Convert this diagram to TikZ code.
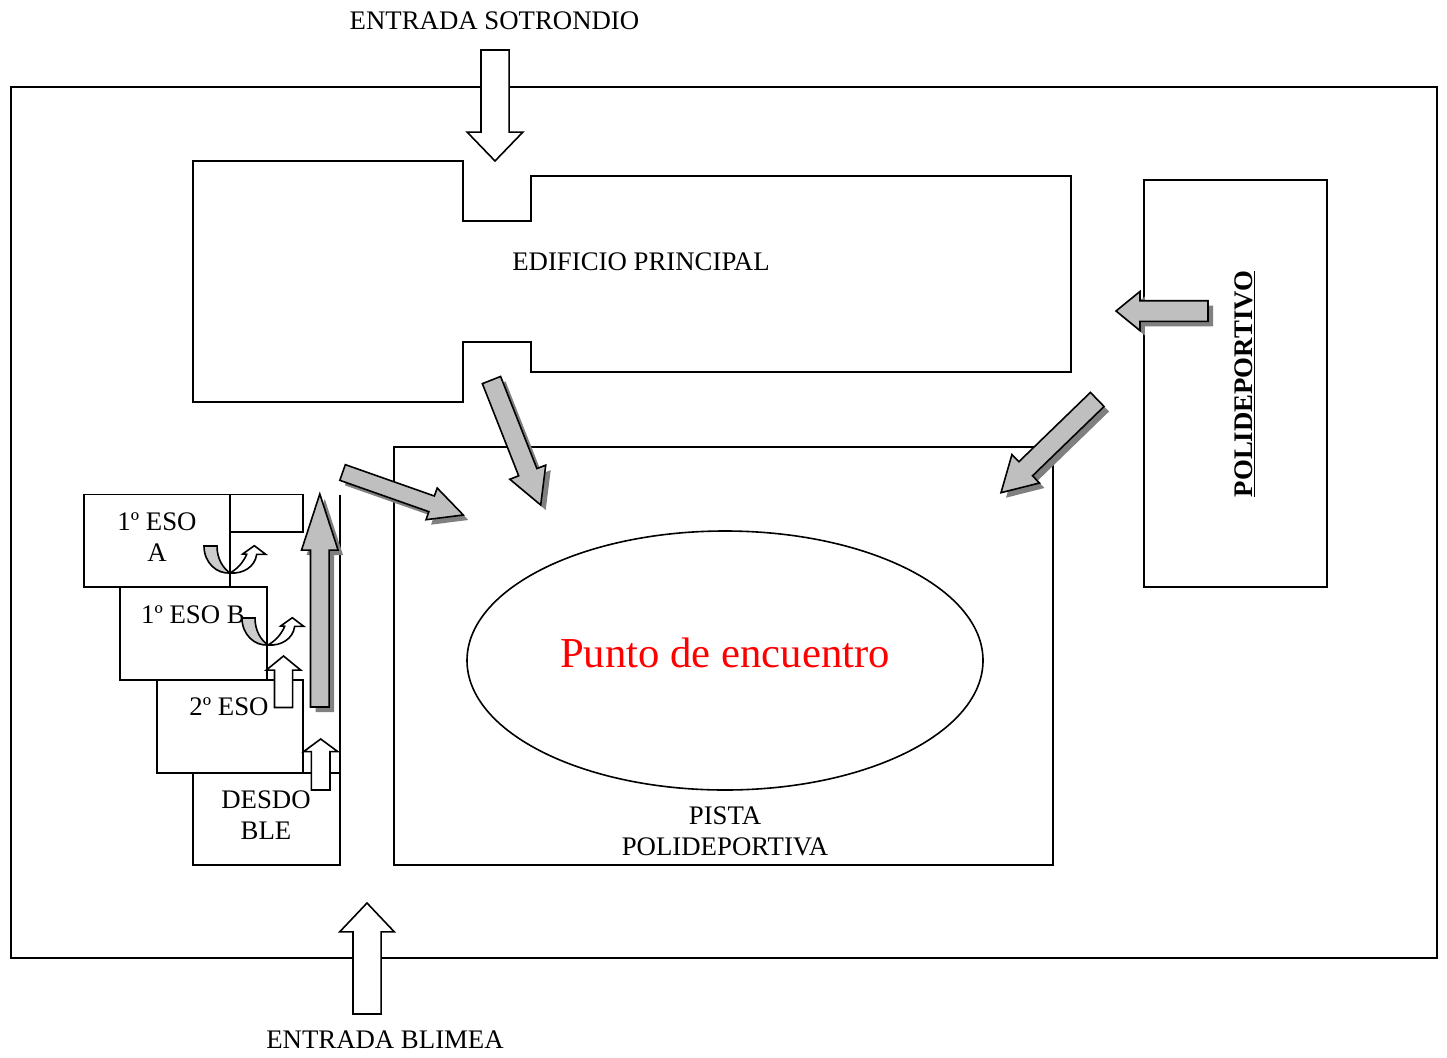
\documentclass[tikz,border=0pt]{standalone}
\usepackage{fontspec}
\setmainfont{Liberation Serif}
\usetikzlibrary{shapes.geometric,shapes.arrows,shadows}

\tikzset{
	wall/.style={line width=1.6pt},
	label/.style={font=\fontsize{26.8}{31}\selectfont, inner sep=0pt},
	blockarrow/.style n args={4}{shape=single arrow, draw, line width=1.6pt, inner sep=0pt, outer sep=0pt,
		anchor=tip, minimum height=#1, minimum width=#2, text height=#3, text depth=0pt, text width=1pt,
		single arrow head extend={(#2-#3)/2}, single arrow head indent=0pt,
		single arrow tip angle={2*atan((#2/2)/#4)}},
	whitearrow/.style n args={4}{blockarrow={#1}{#2}{#3}{#4}, fill=white},
	grayarrow/.style n args={4}{blockarrow={#1}{#2}{#3}{#4}, fill=black!25,
		drop shadow={shadow xshift=5pt, shadow yshift=-5pt, fill=black!50, opacity=1}},
	pics/uturn/.style={code={
		\draw[line width=1.6pt, fill=black!20] (-26,-27) .. controls (-26,-10) and (-13,1) .. (0,0)
			.. controls (-7,-5) and (-13,-14) .. (-13,-27) -- cycle;
		\draw[line width=1.6pt, fill=white] (0,0) .. controls (7,-4) and (13,-10) .. (16.7,-18.7)
			-- (12.7,-19) -- (24.3,-27.3) -- (35.7,-18.7) -- (26.7,-18.7)
			.. controls (25,-6) and (13,1) .. (0,0) -- cycle;
	}},
}

\begin{document}
\begin{tikzpicture}[x=1pt, y=-1pt]
	\useasboundingbox (0,0) rectangle (1447,1057);
	\draw[wall] (11,87) rectangle (1437,958);
	% edificio
	\draw[wall] (193,161) -- (463,161) -- (463,221) -- (531,221) -- (531,176) -- (1071,176)
		-- (1071,372) -- (531,372) -- (531,342) -- (463,342) -- (463,402) -- (193,402) -- cycle;
	\draw[wall] (1144,180) rectangle (1327,587);
	\draw[wall] (394,447) rectangle (1053,865);
	\node[draw, wall, shape=ellipse, inner sep=0pt, minimum width=516pt, minimum height=259pt] (encuentro) at (725,660.5) {};
	% aulas
	\draw[wall] (84,494.5) rectangle (230,587);
	\draw[wall] (230,494.5) rectangle (303,532);
	\draw[wall] (230,532) -- (230,587);
	\draw[wall] (120,587) rectangle (267,680);
	\draw[wall] (157,680) rectangle (303,773);
	\draw[wall] (193,773) rectangle (340,865);
	\draw[wall] (340,494.5) -- (340,773);

	\node[label] (sotrondio) at (494.5,21) {ENTRADA SOTRONDIO};
	\node[label] (blimea) at (385,1040) {ENTRADA BLIMEA};
	\node[label] (edificio) at (641,262) {EDIFICIO PRINCIPAL};
	\node[label, rotate=90, font=\fontsize{26.8}{31}\selectfont\bfseries] (poli) at (1244.5,384) {\underline{POLIDEPORTIVO}};
	\node[label, align=center] (pista) at (725,831.5) {PISTA\\POLIDEPORTIVA};
	\node[label, font=\fontsize{42.7}{49}\selectfont, text=red] (punto) at (725,653) {Punto de encuentro};
	\node[label, align=center] (esoa) at (157,537.5) {1º ESO\\A};
	\node[label] (esob) at (193,615) {1º ESO B};
	\node[label] (esodos) at (229,707) {2º ESO};
	\node[label, align=center] (desdoble) at (266,815.5) {DESDO\\BLE};

	\node[whitearrow={111pt}{54pt}{26.5pt}{28}, rotate=-90] (asotrondio) at (495,161) {};
	\node[whitearrow={111pt}{53pt}{26.5pt}{28}, rotate=90] (ablimea) at (367,903) {};
	\node[whitearrow={51.5pt}{33pt}{16.5pt}{13.5}, rotate=90] (aesodos) at (283.5,656) {};
	\node[whitearrow={51pt}{32.5pt}{17pt}{12}, rotate=90] (adesdoble) at (320.7,739) {};
	\node[grayarrow={213pt}{35pt}{17pt}{53.7}, rotate=90] (apasillo) at (319.8,494) {};
	\node[grayarrow={128pt}{32pt}{15pt}{32}, rotate=-19.4] (apista) at (463.3,515) {};
	\node[grayarrow={134.3pt}{37pt}{18pt}{33.8}, rotate=-68.5] (aedificio) at (540.7,505) {};
	\node[grayarrow={134pt}{38pt}{18pt}{33}, rotate=224.1] (adiagonal) at (1001,492.7) {};
	\node[grayarrow={92pt}{37.5pt}{19pt}{23}, rotate=180] (apoli) at (1116,311) {};

	\pic at (230,573) {uturn};
	\pic at (268,645) {uturn};
\end{tikzpicture}
\end{document}
